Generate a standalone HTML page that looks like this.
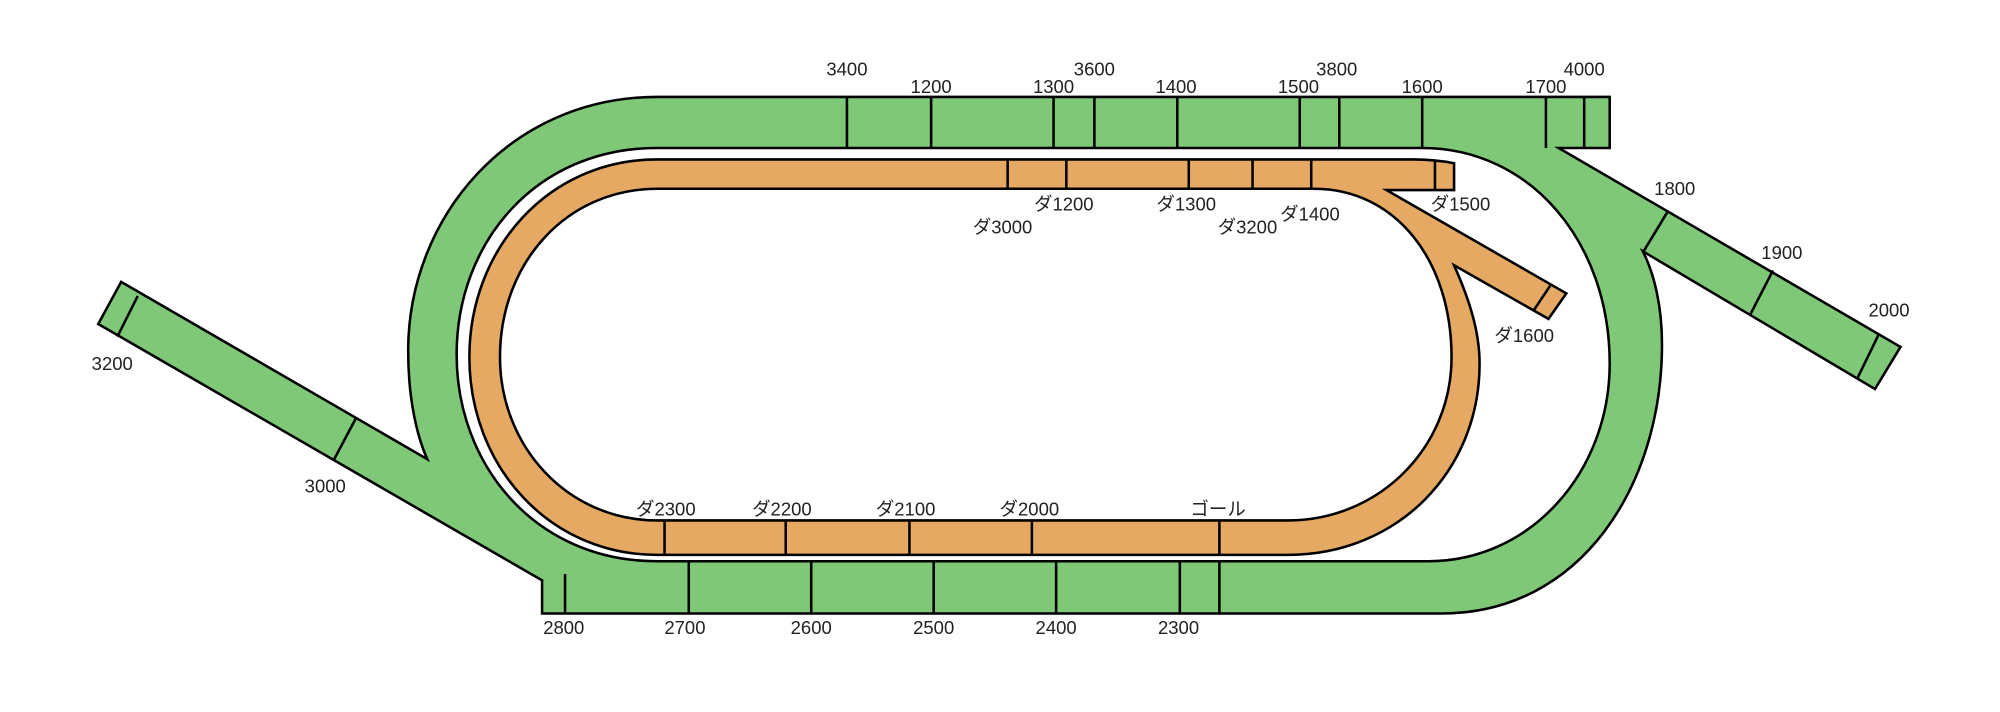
<!DOCTYPE html>
<html><head><meta charset="utf-8"><style>html,body{margin:0;padding:0;background:#fff}svg{display:block}</style></head>
<body>
<svg width="2000" height="712" viewBox="0 0 1568 558.2" xmlns="http://www.w3.org/2000/svg" font-family="'Liberation Sans','Noto Sans CJK JP',sans-serif" font-size="14.5" text-anchor="middle" fill="#222">
<g stroke="#000" stroke-width="2" stroke-linejoin="miter">
<path fill="#7ec878" d="M515,76 C400,76 320,170 320,275 C320,310 326,340 335,360 L95,221 L77,254 L425,455 L425,481 L1130,481 C1240,481 1303,380 1303,270 C1303,240 1297,215 1288,197 L1470,305 L1490,272 L1222,116 L1262,116 L1262,76 Z"/>
<path fill="#fff" d="M515,116 C420,116 358,190 358,278 C358,365 420,440 515,440 L1120,440 C1200,440 1262,370 1262,285 C1262,190 1200,116 1115,116 Z"/>
<path fill="#e5a963" d="M515,125 L1108,125 Q1125,125 1140,128 L1140,149 L1087,149 L1228,230 L1214,250 L1140,208 C1152,235 1160,260 1160,285 C1160,370 1095,435 1010,435 L515,435 C430,435 368,365 368,280 C368,195 430,125 515,125 Z"/>
<path fill="#fff" d="M515,148 L1030,148 C1095,148 1138,205 1138,280 C1138,352 1080,408 1010,408 L515,408 C445,408 392,350 392,280 C392,205 445,148 515,148 Z"/>
<path fill="none" d="M664,76V116M730,76V116M826,76V116M858,76V116M923,76V116M1019,76V116M1050,76V116M1115,76V116M1212,76V116M1242,76V116
M443,450V481M540,440V481M636,440V481M732,440V481M828,440V481M925,440V481M956,440V481
M108,232L92,264M279,328L262,360M1308,165L1288,198M1390,212L1372,247M1473,262L1456,297
M790,125V148M836,125V148M932,125V148M982,125V148M1028,125V148M1125,126V149M1216,223L1202,244
M521,408V435M616,408V435M713,408V435M809,408V435M956,408V435"/>
</g>
<g>
<text x="664" y="59">3400</text><text x="730" y="73">1200</text><text x="826" y="73">1300</text><text x="858" y="59">3600</text>
<text x="922" y="73">1400</text><text x="1018" y="73">1500</text><text x="1048" y="59">3800</text><text x="1115" y="73">1600</text>
<text x="1212" y="73">1700</text><text x="1242" y="59">4000</text>
<text x="442" y="497">2800</text><text x="537" y="497">2700</text><text x="636" y="497">2600</text><text x="732" y="497">2500</text><text x="828" y="497">2400</text><text x="924" y="497">2300</text>
<text x="88" y="290">3200</text><text x="255" y="386">3000</text>
<text x="1313" y="153">1800</text><text x="1397" y="203">1900</text><text x="1481" y="248">2000</text>
<text x="786" y="183">ダ3000</text><text x="834" y="165">ダ1200</text><text x="930" y="165">ダ1300</text><text x="978" y="183">ダ3200</text>
<text x="1027" y="173">ダ1400</text><text x="1145" y="165">ダ1500</text><text x="1195" y="268">ダ1600</text>
<text x="522" y="404">ダ2300</text><text x="613" y="404">ダ2200</text><text x="710" y="404">ダ2100</text><text x="807" y="404">ダ2000</text><text x="955" y="404">ゴール</text>
</g>
</svg>
</body></html>
